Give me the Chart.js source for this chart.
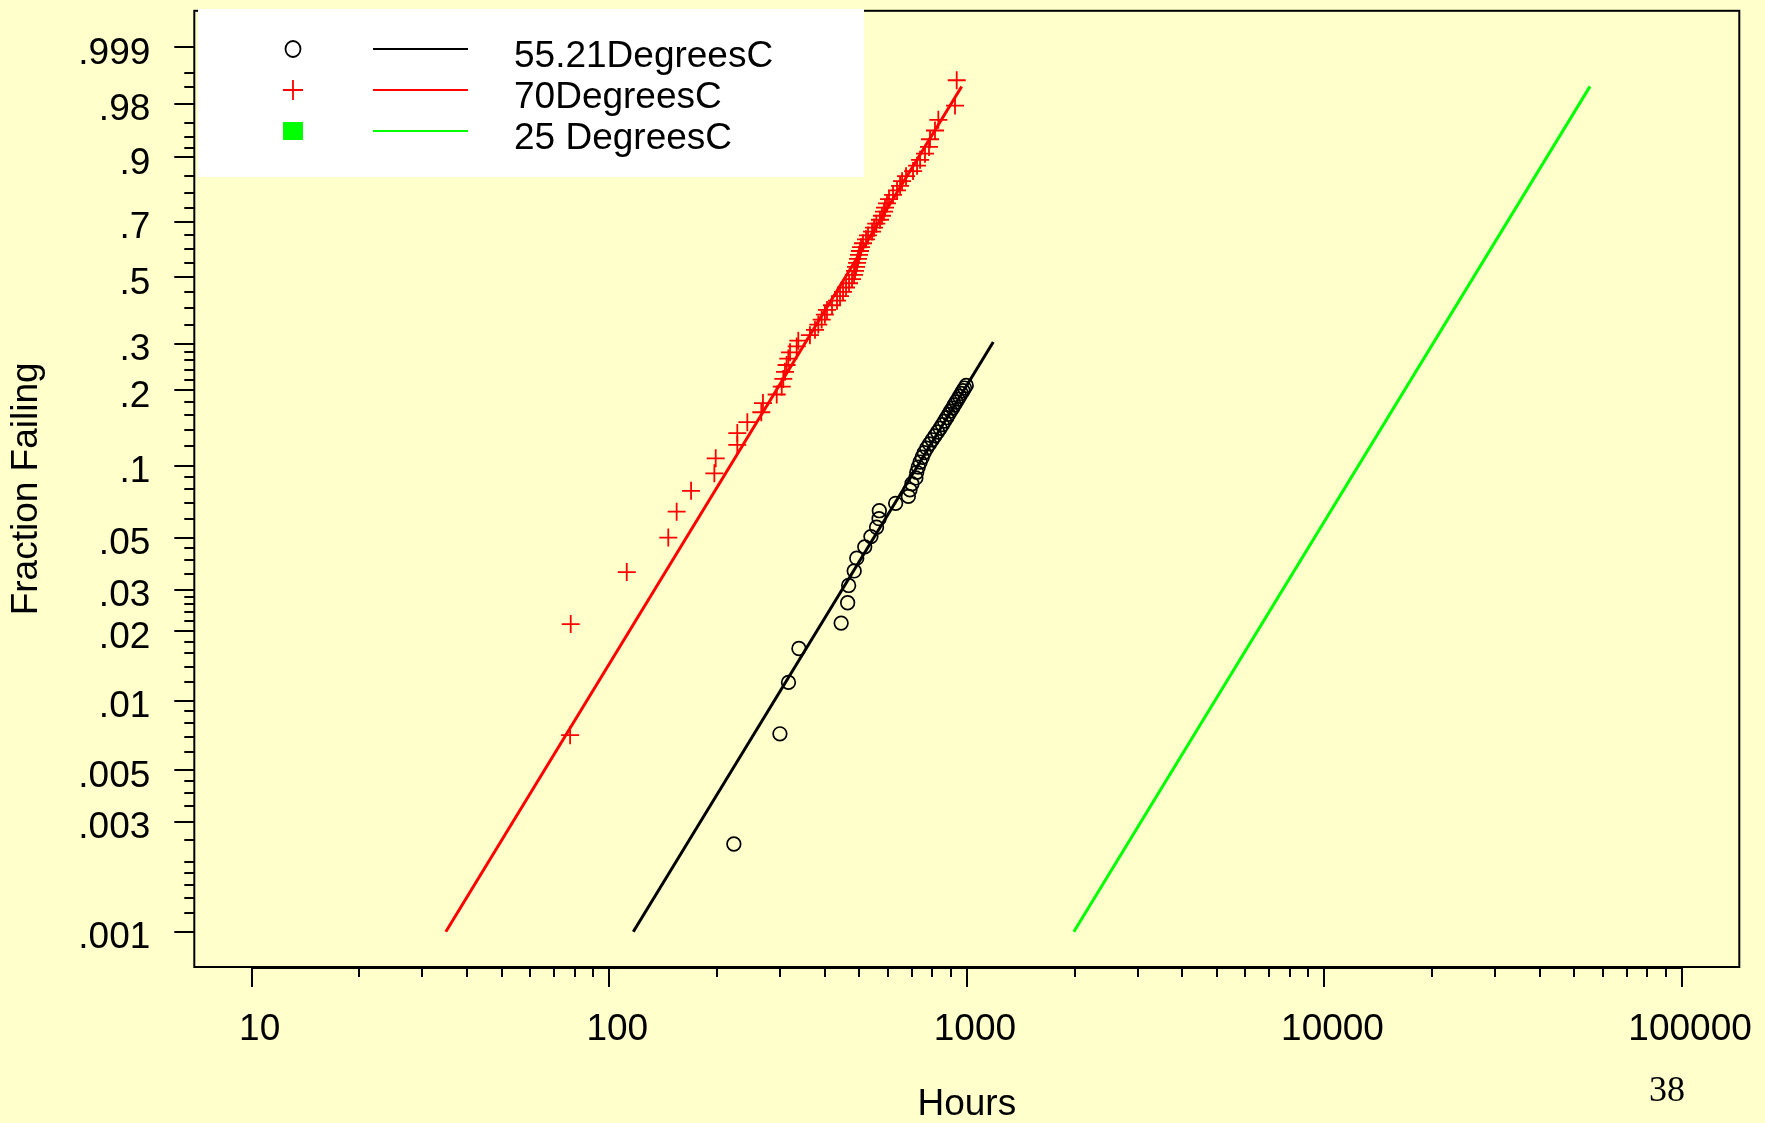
<!DOCTYPE html>
<html>
<head>
<meta charset="utf-8">
<title>Weibull plot</title>
<script src="https://cdn.jsdelivr.net/npm/chart.js@4.4.0/dist/chart.umd.min.js"></script>
<style>
    html, body { margin: 0; padding: 0; background: #ffffcc; }
    #wrap { width: 1765px; height: 1123px; }
</style>
</head>
<body>
<div id="wrap"><canvas id="weibullChart" width="1765" height="1123"></canvas></div>
<script>
// series names (legend order)
const seriesNames = ['55.21DegreesC', '70DegreesC', '25 DegreesC'];

// 55.21 C failures: hours and fraction failing
const hours55 = [223, 300, 317, 339, 445, 464, 467, 484, 492, 518,
    539, 559, 568, 569, 632, 686, 693, 702, 720, 724,
    731, 740, 750, 760, 772, 786, 800, 814, 828, 842,
    854, 866, 878, 889, 900, 912, 922, 933, 944, 954,
    965, 975, 985, 996];
const frac55 = [.0024, .0072, .0120, .0168, .0216, .0264, .0313, .0361, .0409, .0457,
    .0505, .0553, .0601, .0649, .0697, .0745, .0793, .0841, .0889, .0938,
    .0986, .1034, .1082, .1130, .1178, .1226, .1274, .1322, .1370, .1418,
    .1466, .1514, .1563, .1611, .1659, .1707, .1755, .1803, .1851, .1899,
    .1947, .1995, .2043, .2091];

// 70 C failures
const hours70 = [77.7, 78.0, 111.9, 146.2, 154.3, 169.3, 196.7, 198.4, 228, 228,
    243.2, 266.1, 269, 293.9, 303.5, 306.6, 309.9, 313.2, 316.7, 320.2,
    334.2, 337.7, 364, 376, 384.1, 392.6, 400.8, 406.3, 419.6, 433.3,
    441.8, 450.4, 459.2, 468.2, 477.3, 483.5, 486.6, 489.8, 492.9, 496.1,
    499.3, 502.5, 505.8, 512.3, 522.3, 529.1, 543, 550, 558, 571.5,
    578.9, 586.4, 590.2, 597.8, 605.6, 621.4, 637.7, 650.3, 658.7, 675.8,
    707, 725.5, 739.7, 763.6, 783.5, 788.6, 814.3, 832, 926.3, 936.6];
const frac70 = [.0071, .0214, .0357, .0500, .0643, .0786, .0929, .1071, .1214, .1357,
    .1500, .1643, .1786, .1929, .2071, .2214, .2357, .2500, .2643, .2786,
    .2929, .3071, .3214, .3357, .3500, .3643, .3786, .3929, .4071, .4214,
    .4357, .4500, .4643, .4786, .4929, .5071, .5214, .5357, .5500, .5643,
    .5786, .5929, .6071, .6214, .6357, .6500, .6643, .6786, .6929, .7071,
    .7214, .7357, .7500, .7643, .7786, .7929, .8071, .8214, .8357, .8500,
    .8643, .8786, .8929, .9071, .9214, .9357, .9500, .9643, .9786, .9929];

// fitted lines (end points)
const fit55Hours = [116.7, 1185];
const fit55Frac = [.001, .304];
const fit70Hours = [34.9, 967];
const fit70Frac = [.001, .9904];
const fit25Hours = [1991, 55270];
const fit25Frac = [.001, .9905];

// axes
const yTickValues = [.001, .003, .005, .01, .02, .03, .05, .1, .2, .3, .5, .7, .9, .98, .999];
const yTickLabels = ['.001', '.003', '.005', '.01', '.02', '.03', '.05', '.1', '.2', '.3', '.5', '.7', '.9', '.98', '.999'];
const yMinorValues = [.0012, .0014, .0016, .0018, .002, .0025, .0035, .004, .0045,
    .006, .007, .008, .009, .012, .014, .016, .018, .022, .024, .026, .028,
    .035, .04, .045, .06, .07, .08, .09, .12, .14, .16, .18, .22, .24, .26, .28,
    .35, .4, .45, .55, .6, .65, .75, .8, .85, .92, .94, .96, .99, .995];
const xTickValues = [10, 100, 1000, 10000, 100000];
const xTickLabels = ['10', '100', '1000', '10000', '100000'];
const xMinorValues = [];
for (let d = 10; d < 100000; d *= 10) {
    for (let k = 2; k <= 9; k++) xMinorValues.push(d * k);
}

// weibull probability scale
function weib(p) {
    return Math.log(-Math.log(1 - p));
}
function toPoints(hrs, fr) {
    return hrs.map(function(h, i) { return { x: h, y: weib(fr[i]) }; });
}

const FONT = '"Liberation Sans", Arial, sans-serif';

// legend entries: marker + line + text
const legendItems = [
    { marker: 'circle', color: '#000000', line: '#000000' },
    { marker: 'plus', color: '#ff0000', line: '#ff0000' },
    { marker: 'square', color: '#00ff00', line: '#00ff00' }
];

const paperPlugin = {
    id: 'paper',
    beforeDraw: function(chart) {
        const ctx = chart.ctx;
        ctx.save();
        ctx.fillStyle = '#ffffcc';
        ctx.fillRect(0, 0, chart.width, chart.height);
        ctx.restore();
    },
    afterDraw: function(chart) {
        const ctx = chart.ctx;
        const a = chart.chartArea;
        const xs = chart.scales.x;
        const ys = chart.scales.y;
        ctx.save();

        // frame
        ctx.strokeStyle = '#000';
        ctx.lineWidth = 2;
        ctx.strokeRect(a.left, a.top, a.right - a.left, a.bottom - a.top);

        // x axis line between first and last decade
        ctx.lineWidth = 3;
        ctx.beginPath();
        ctx.moveTo(xs.getPixelForValue(10), a.bottom + 0.5);
        ctx.lineTo(xs.getPixelForValue(100000), a.bottom + 0.5);
        ctx.stroke();

        // minor ticks
        ctx.lineWidth = 2;
        ctx.beginPath();
        xMinorValues.forEach(function(v) {
            const px = Math.round(xs.getPixelForValue(v));
            ctx.moveTo(px, a.bottom);
            ctx.lineTo(px, a.bottom + 10);
        });
        yMinorValues.forEach(function(p) {
            const py = Math.round(ys.getPixelForValue(weib(p)));
            ctx.moveTo(a.left - 10, py);
            ctx.lineTo(a.left, py);
        });
        ctx.stroke();

        // legend
        ctx.fillStyle = '#ffffff';
        ctx.fillRect(198, 9, 666, 168);
        ctx.font = '37px ' + FONT;
        ctx.textBaseline = 'alphabetic';
        ctx.textAlign = 'left';
        legendItems.forEach(function(item, i) {
            const cy = 49 + i * 41;
            const mx = 293;
            ctx.strokeStyle = item.color;
            ctx.fillStyle = item.color;
            ctx.lineWidth = 1.8;
            if (item.marker === 'circle') {
                ctx.beginPath();
                ctx.ellipse(mx, cy, 7.5, 8, 0, 0, Math.PI * 2);
                ctx.stroke();
            } else if (item.marker === 'plus') {
                ctx.beginPath();
                ctx.moveTo(mx - 10, cy);
                ctx.lineTo(mx + 10, cy);
                ctx.moveTo(mx, cy - 10);
                ctx.lineTo(mx, cy + 10);
                ctx.stroke();
            } else {
                ctx.fillRect(mx - 10, cy - 9, 20, 18);
            }
            ctx.strokeStyle = item.line;
            ctx.lineWidth = 2;
            ctx.beginPath();
            ctx.moveTo(373, cy);
            ctx.lineTo(468, cy);
            ctx.stroke();
            ctx.fillStyle = '#000';
            ctx.fillText(seriesNames[i], 514, cy + 18);
        });

        // page number
        ctx.font = '36px "Liberation Serif", "Times New Roman", serif';
        ctx.textAlign = 'center';
        ctx.textBaseline = 'middle';
        ctx.fillStyle = '#000';
        ctx.fillText('38', 1667, 1092);
        ctx.restore();
    }
};

const ctx = document.getElementById('weibullChart');
const myChart = new Chart(ctx, {
    type: 'scatter',
    data: {
        datasets: [{
            label: seriesNames[0],
            data: toPoints(hours55, frac55),
            pointStyle: 'circle',
            pointRadius: 6.8,
            pointBorderWidth: 1.7,
            pointBorderColor: '#000',
            pointBackgroundColor: 'rgba(0,0,0,0)',
            showLine: false,
            order: 2
        }, {
            label: seriesNames[0] + ' fit',
            data: toPoints(fit55Hours, fit55Frac),
            showLine: true,
            borderColor: '#000',
            borderWidth: 3,
            pointRadius: 0,
            order: 1
        }, {
            label: seriesNames[1],
            data: toPoints(hours70, frac70),
            pointStyle: 'cross',
            pointRadius: 9,
            pointBorderWidth: 1.8,
            pointBorderColor: '#ff0000',
            showLine: false,
            order: 2
        }, {
            label: seriesNames[1] + ' fit',
            data: toPoints(fit70Hours, fit70Frac),
            showLine: true,
            borderColor: '#ff0000',
            borderWidth: 3,
            pointRadius: 0,
            order: 1
        }, {
            label: seriesNames[2] + ' fit',
            data: toPoints(fit25Hours, fit25Frac),
            showLine: true,
            borderColor: '#00ff00',
            borderWidth: 3,
            pointRadius: 0,
            order: 1
        }]
    },
    options: {
        responsive: false,
        animation: false,
        devicePixelRatio: 1,
        layout: {
            padding: { left: 0, top: 4.3, right: 25.7, bottom: 0 }
        },
        scales: {
            x: {
                type: 'logarithmic',
                min: 6.91,
                max: 144540,
                afterFit: function(scale) {
                    scale.height = 156;
                    scale.paddingLeft = 0;
                    scale.paddingRight = 0;
                },
                afterBuildTicks: function(scale) {
                    scale.ticks = xTickValues.map(function(v) { return { value: v }; });
                },
                ticks: {
                    autoSkip: false,
                    maxRotation: 0,
                    padding: 21,
                    labelOffset: 8,
                    color: '#000',
                    font: { family: FONT, size: 37 },
                    callback: function(value, index) { return xTickLabels[index]; }
                },
                grid: {
                    drawOnChartArea: false,
                    drawTicks: true,
                    tickLength: 20,
                    color: '#000',
                    lineWidth: 2
                },
                border: { display: false },
                title: {
                    display: true,
                    text: 'Hours',
                    color: '#000',
                    font: { family: FONT, size: 37, lineHeight: 1 },
                    padding: { top: 0, bottom: 0 }
                }
            },
            y: {
                type: 'linear',
                min: -7.26,
                max: 2.293,
                afterFit: function(scale) {
                    scale.width = 194.3;
                    scale.paddingTop = 0;
                    scale.paddingBottom = 0;
                },
                afterBuildTicks: function(scale) {
                    scale.ticks = yTickValues.map(function(p) { return { value: weib(p) }; });
                },
                ticks: {
                    autoSkip: false,
                    padding: 24,
                    labelOffset: 6.5,
                    color: '#000',
                    font: { family: FONT, size: 37 },
                    callback: function(value, index) { return yTickLabels[index]; }
                },
                grid: {
                    drawOnChartArea: false,
                    drawTicks: true,
                    tickLength: 20,
                    color: '#000',
                    lineWidth: 2
                },
                border: { display: false },
                title: {
                    display: true,
                    text: 'Fraction Failing',
                    color: '#000',
                    font: { family: FONT, size: 37, lineHeight: 1 },
                    padding: { top: 8, bottom: 0 }
                }
            }
        },
        plugins: {
            legend: { display: false },
            tooltip: { enabled: false }
        }
    },
    plugins: [paperPlugin]
});
</script>
</body>
</html>
